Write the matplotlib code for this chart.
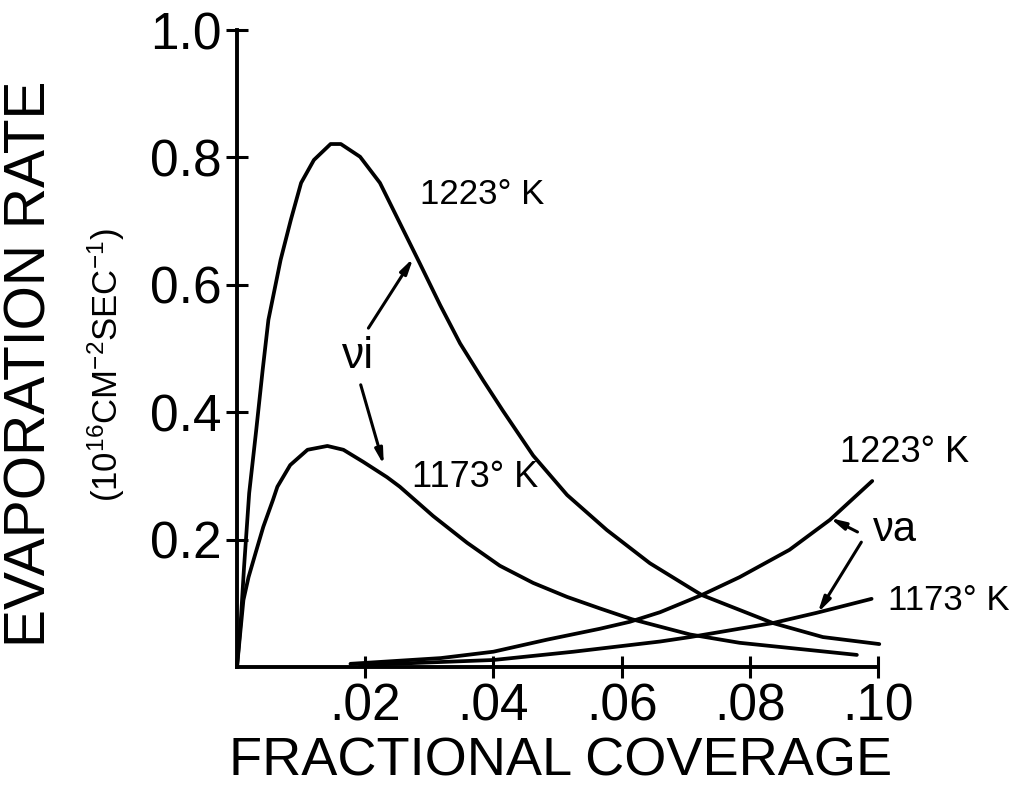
import matplotlib
matplotlib.use("Agg")
import matplotlib.pyplot as plt

plt.rcParams['font.family'] = ['Liberation Sans', 'DejaVu Sans']
plt.rcParams['mathtext.default'] = 'regular'

# nu_i, 1223 K
vi_hot_x = [0.0, 0.0006, 0.0011, 0.0019, 0.0030, 0.0040, 0.0049, 0.0068, 0.0084, 0.0100,
            0.0120, 0.0146, 0.0162, 0.0192, 0.0223, 0.0254, 0.0285, 0.0317, 0.0348, 0.0384,
            0.0415, 0.0462, 0.0515, 0.0577, 0.0644, 0.0707, 0.0725, 0.0836, 0.0914, 0.1002]
vi_hot_y = [0.0, 0.074, 0.157, 0.273, 0.372, 0.466, 0.545, 0.639, 0.702, 0.760,
            0.796, 0.821, 0.821, 0.801, 0.760, 0.697, 0.634, 0.568, 0.508, 0.450,
            0.402, 0.332, 0.270, 0.215, 0.163, 0.124, 0.113, 0.069, 0.047, 0.036]

# nu_i, 1173 K
vi_cold_x = [0.0, 0.0005, 0.0010, 0.0018, 0.0029, 0.0041, 0.0056, 0.0063, 0.0083, 0.0110,
             0.0141, 0.0166, 0.0197, 0.0234, 0.0254, 0.0306, 0.0359, 0.0410, 0.0462, 0.0515,
             0.0566, 0.0616, 0.0707, 0.0784, 0.0967]
vi_cold_y = [0.0, 0.053, 0.105, 0.141, 0.179, 0.220, 0.262, 0.283, 0.317, 0.341,
             0.347, 0.341, 0.322, 0.298, 0.283, 0.237, 0.195, 0.159, 0.132, 0.110,
             0.092, 0.075, 0.051, 0.038, 0.019]

# nu_a, 1223 K
va_hot_x = [0.0177, 0.0318, 0.0400, 0.0484, 0.0566, 0.0613, 0.0660, 0.0725, 0.0784, 0.0862,
            0.0925, 0.0991]
va_hot_y = [0.005, 0.014, 0.024, 0.043, 0.060, 0.071, 0.086, 0.113, 0.141, 0.184,
            0.231, 0.292]

# nu_a, 1173 K
va_cold_x = [0.0192, 0.0400, 0.0525, 0.0660, 0.0707, 0.0836, 0.0904, 0.0990]
va_cold_y = [0.003, 0.011, 0.024, 0.040, 0.047, 0.069, 0.085, 0.107]

xticks = [0.02, 0.04, 0.06, 0.08, 0.10]
xticklabels = ['.02', '.04', '.06', '.08', '.10']
yticks = [0.2, 0.4, 0.6, 0.8, 1.0]
yticklabels = ['0.2', '0.4', '0.6', '0.8', '1.0']

fig = plt.figure(figsize=(10.22, 7.94), dpi=100)
ax = fig.add_axes([237 / 1022, 127 / 794, 641 / 1022, 637 / 794])

lw = 2.7
for xs, ys in [(vi_hot_x, vi_hot_y), (vi_cold_x, vi_cold_y),
               (va_hot_x, va_hot_y), (va_cold_x, va_cold_y)]:
    ax.plot(xs, ys, color='black', lw=lw, clip_on=False,
            solid_capstyle='round', solid_joinstyle='round')

ax.set_xlim(0, 0.10)
ax.set_ylim(0, 1.0)
for s in ['top', 'right']:
    ax.spines[s].set_visible(False)
for s in ['left', 'bottom']:
    ax.spines[s].set_linewidth(2.8)

ax.set_xticks(xticks)
ax.set_xticklabels(xticklabels)
ax.set_yticks(yticks)
ax.set_yticklabels(yticklabels)
ax.tick_params(direction='inout', length=16, width=2.2, labelsize=37, pad=3)

# axis titles
fig.text(31 / 1022, 1 - 364 / 794, 'EVAPORATION RATE', rotation=90, fontsize=41,
         ha='center', va='center')
fig.text(106 / 1022, 1 - 365 / 794, r'(10$^{16}$CM$^{-2}$SEC$^{-1}$)', rotation=90,
         fontsize=25, ha='center', va='center')
fig.text(561 / 1022, 1 - 762 / 794, 'FRACTIONAL COVERAGE', fontsize=39,
         ha='center', va='center')

# curve labels
ax.text(0.0383, 0.741, '1223° K', fontsize=25, ha='center', va='center')
ax.text(0.0372, 0.297, '1173° K', fontsize=26, ha='center', va='center')
ax.text(0.1041, 0.336, '1223° K', fontsize=26, ha='center', va='center', clip_on=False)
ax.text(0.1111, 0.105, '1173° K', fontsize=25, ha='center', va='center', clip_on=False)
ax.text(0.0188, 0.487, 'νi', fontsize=32, ha='center', va='center')
ax.text(0.1026, 0.215, 'νa', fontsize=30, ha='center', va='center', clip_on=False)

arrow = dict(arrowstyle='-|>,head_length=0.9,head_width=0.22', lw=2.2, color='black',
             shrinkA=0, shrinkB=0)
ax.annotate('', xy=(0.0275, 0.642), xytext=(0.0205, 0.532), arrowprops=arrow)
ax.annotate('', xy=(0.0229, 0.317), xytext=(0.0193, 0.443), arrowprops=arrow)
ax.annotate('', xy=(0.0925, 0.234), xytext=(0.0968, 0.212), arrowprops=arrow,
            annotation_clip=False)
ax.annotate('', xy=(0.0906, 0.085), xytext=(0.0974, 0.196), arrowprops=arrow,
            annotation_clip=False)

fig.savefig('out.png', dpi=100, facecolor='white')
